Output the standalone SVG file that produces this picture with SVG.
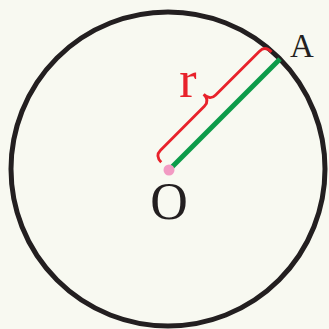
<svg xmlns="http://www.w3.org/2000/svg" width="329" height="329" viewBox="0 0 329 329">
<style>
.lbl{font-family:"Liberation Serif","Times New Roman",serif;text-anchor:middle}
</style>
<rect width="329" height="329" fill="#f8f9f1"/>
<g id="circle"><circle cx="168" cy="169" r="157" fill="none" stroke="#231f20" stroke-width="5"/></g>
<g id="connectors">
<line id="radius" x1="169" y1="170" x2="280" y2="59" stroke="#0d9b4a" stroke-width="5"/>
<path id="brace" transform="translate(169,170) rotate(-45)" d="M 0,-11 Q 0,-20 8,-20 L 70,-20 Q 78,-20 78,-29 Q 78,-20 86,-20 L 148,-20 Q 156,-20 156,-11" fill="none" stroke="#e8222b" stroke-width="2.8"/>
</g>
<g id="O"><circle cx="169" cy="170" r="5.5" fill="#f29ac3"/><text class="lbl" x="169" y="219" font-size="52" fill="#231f20">O</text></g>
<g id="A"><text class="lbl" x="302" y="56.5" font-size="33" fill="#231f20">A</text></g>
<g id="r"><text class="lbl" x="188" y="97" font-size="52" fill="#e8222b">r</text></g>
</svg>
